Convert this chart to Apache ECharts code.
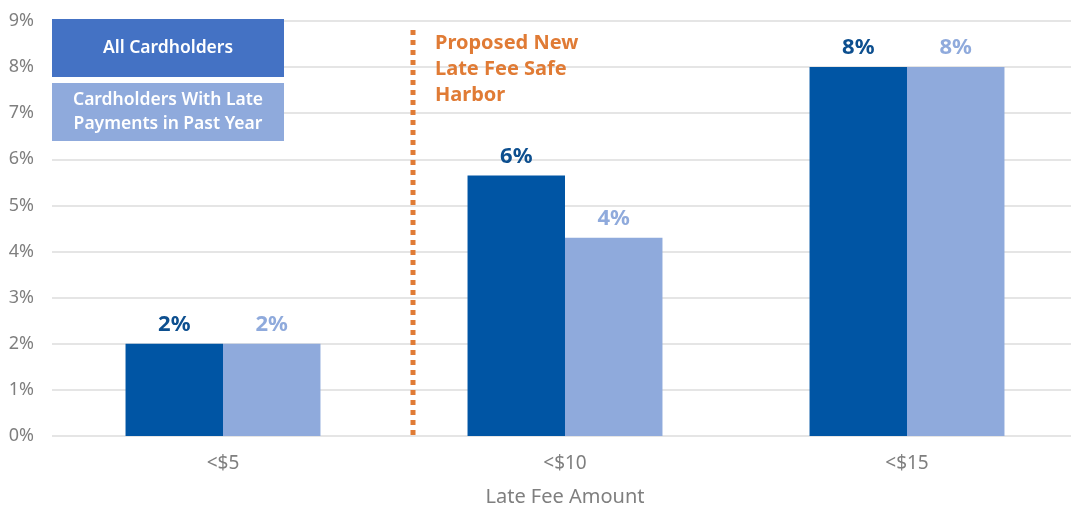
<!DOCTYPE html>
<html>
<head>
<meta charset="utf-8">
<script src="https://cdn.jsdelivr.net/npm/echarts@6/dist/echarts.min.js"></script>
<style>
  html, body { margin: 0; padding: 0; background: #fff; }
  #chart { width: 1071px; height: 506px; }
</style>
</head>
<body>
<div id="chart"></div>
<script>
const categories = ['<$5', '<$10', '<$15'];
const allCardholders = [2.0, 5.65, 8.0];
const lateCardholders = [2.0, 4.3, 8.0];
const yTicks = [0, 1, 2, 3, 4, 5, 6, 7, 8, 9];

const FONT = '"Noto Sans", "Open Sans", sans-serif';
const DARK = '#0055A4';
const LIGHT = '#8FAADC';
const ORANGE = '#E07B35';

const chart = echarts.init(document.getElementById('chart'));

const labelFmt = p => Math.round(p.value) + '%';

chart.setOption({
  animation: false,
  textStyle: { fontFamily: FONT },
  grid: { left: 52, top: 21, width: 1026, height: 415, containLabel: false, outerBoundsMode: 'none' },
  xAxis: {
    type: 'category',
    data: categories,
    axisLine: { show: false },
    axisTick: { show: false },
    axisLabel: { color: '#7F7F7F', fontSize: 19, margin: 18 },
    name: 'Late Fee Amount',
    nameLocation: 'middle',
    nameGap: 51,
    nameTextStyle: { color: '#7F7F7F', fontSize: 20 }
  },
  yAxis: {
    type: 'value',
    min: yTicks[0],
    max: yTicks[yTicks.length - 1],
    interval: 1,
    axisLine: { show: false },
    axisTick: { show: false },
    axisLabel: { color: '#7F7F7F', fontSize: 18, margin: 18, formatter: v => v + '%' },
    splitLine: { lineStyle: { color: '#DCDCDC', width: 1.5 } }
  },
  series: [
    {
      name: 'All Cardholders',
      type: 'bar',
      data: allCardholders,
      barGap: '0%',
      barCategoryGap: '43%',
      itemStyle: { color: DARK },
      label: { show: true, position: 'top', distance: 8, formatter: labelFmt,
        color: '#0D4F8F', fontSize: 22, fontWeight: 'bold' }
    },
    {
      name: 'Cardholders With Late Payments in Past Year',
      type: 'bar',
      data: lateCardholders,
      itemStyle: { color: LIGHT },
      label: { show: true, position: 'top', distance: 8, formatter: labelFmt,
        color: LIGHT, fontSize: 22, fontWeight: 'bold' }
    }
  ],
  graphic: [
    // legend boxes
    { type: 'rect', z: 100, x: 52, y: 19, shape: { width: 232, height: 58 }, style: { fill: '#4472C4' } },
    { type: 'text', z: 101, x: 168, y: 48, style: { text: 'All Cardholders', fill: '#fff',
      font: '600 17.5px ' + FONT, align: 'center', verticalAlign: 'middle' } },
    { type: 'rect', z: 100, x: 52, y: 83, shape: { width: 232, height: 58 }, style: { fill: LIGHT } },
    { type: 'text', z: 101, x: 168, y: 112, style: { text: 'Cardholders With Late\nPayments in Past Year',
      fill: '#fff', font: '600 17.5px ' + FONT, lineHeight: 24, align: 'center', verticalAlign: 'middle' } },
    // safe harbor annotation
    { type: 'line', z: 100, shape: { x1: 413, y1: 30, x2: 413, y2: 436 },
      style: { stroke: ORANGE, lineWidth: 5, lineDash: [5, 5] } },
    { type: 'text', z: 100, x: 435, y: 30, style: { text: 'Proposed New\nLate Fee Safe\nHarbor',
      fill: ORANGE, font: 'bold 20px ' + FONT, lineHeight: 26 } }
  ]
});
</script>
</body>
</html>
